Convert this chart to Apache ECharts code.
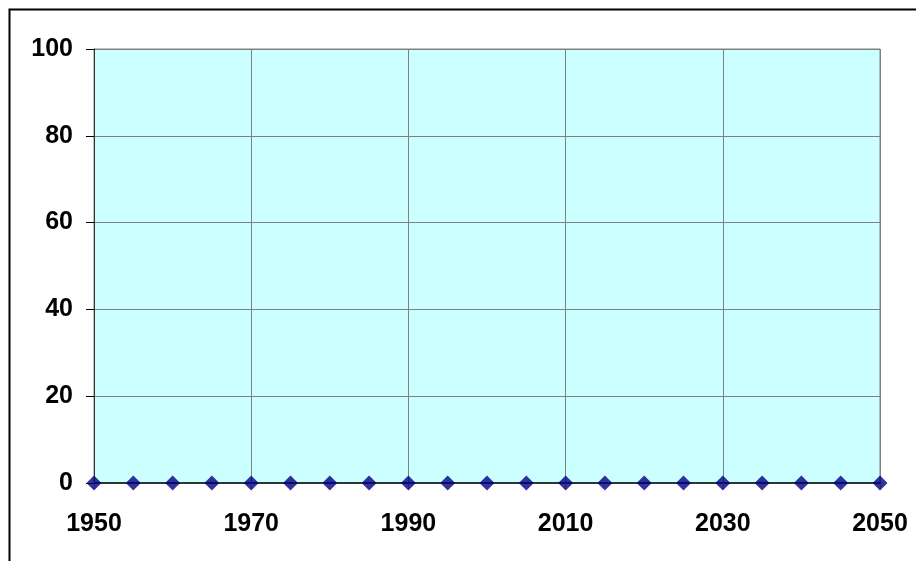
<!DOCTYPE html>
<html>
<head>
<meta charset="utf-8">
<script src="https://cdn.jsdelivr.net/npm/echarts@6/dist/echarts.min.js"></script>
<style>
html,body{margin:0;padding:0;background:#fff;}
#chart{width:916px;height:561px;}
</style>
</head>
<body>
<div id="chart"></div>
<script>
// Years sampled every five years, with the series value for each
const years = [1950,1955,1960,1965,1970,1975,1980,1985,1990,1995,2000,2005,2010,2015,2020,2025,2030,2035,2040,2045,2050];
const values = [0,0,0,0,0,0,0,0,0,0,0,0,0,0,0,0,0,0,0,0,0];
const yTicks = [0,20,40,60,80,100];
const xTicks = [1950,1970,1990,2010,2030,2050];

const chart = echarts.init(document.getElementById('chart'));
const labelFont = {fontFamily:'"Liberation Sans", Arial, sans-serif', fontWeight:'bold', fontSize:25, color:'#000'};

chart.setOption({
  animation:false,
  backgroundColor:'#fff',
  graphic:[{
    type:'rect', left:7, top:7, z:-1,
    shape:{width:1000, height:1000},
    style:{fill:'none', stroke:'#000', lineWidth:2}
  }],
  grid:{left:94, right:36, top:49, bottom:78, show:true, backgroundColor:'#ccffff', borderColor:'#808080', borderWidth:1},
  xAxis:{
    type:'value', min:xTicks[0], max:xTicks[xTicks.length-1], interval:20,
    axisLine:{onZero:false, lineStyle:{color:'#333', width:2}},
    axisTick:{show:true, length:6, lineStyle:{color:'#aaa'}},
    splitLine:{show:true, lineStyle:{color:'#808080', width:1}},
    axisLabel:Object.assign({margin:29, formatter:v=>String(v)}, labelFont)
  },
  yAxis:{
    type:'value', min:yTicks[0], max:yTicks[yTicks.length-1], interval:20,
    axisLine:{show:true, lineStyle:{color:'#333', width:1}},
    axisTick:{show:true, length:8, lineStyle:{color:'#000'}},
    splitLine:{show:true, lineStyle:{color:'#808080', width:1}},
    axisLabel:Object.assign({margin:21}, labelFont)
  },
  series:[{
    type:'scatter',
    data:years.map((y,i)=>[y, values[i]]),
    symbol:'diamond', symbolSize:15,
    itemStyle:{color:'#000080'},
    clip:false, z:5
  }]
});
</script>
</body>
</html>
